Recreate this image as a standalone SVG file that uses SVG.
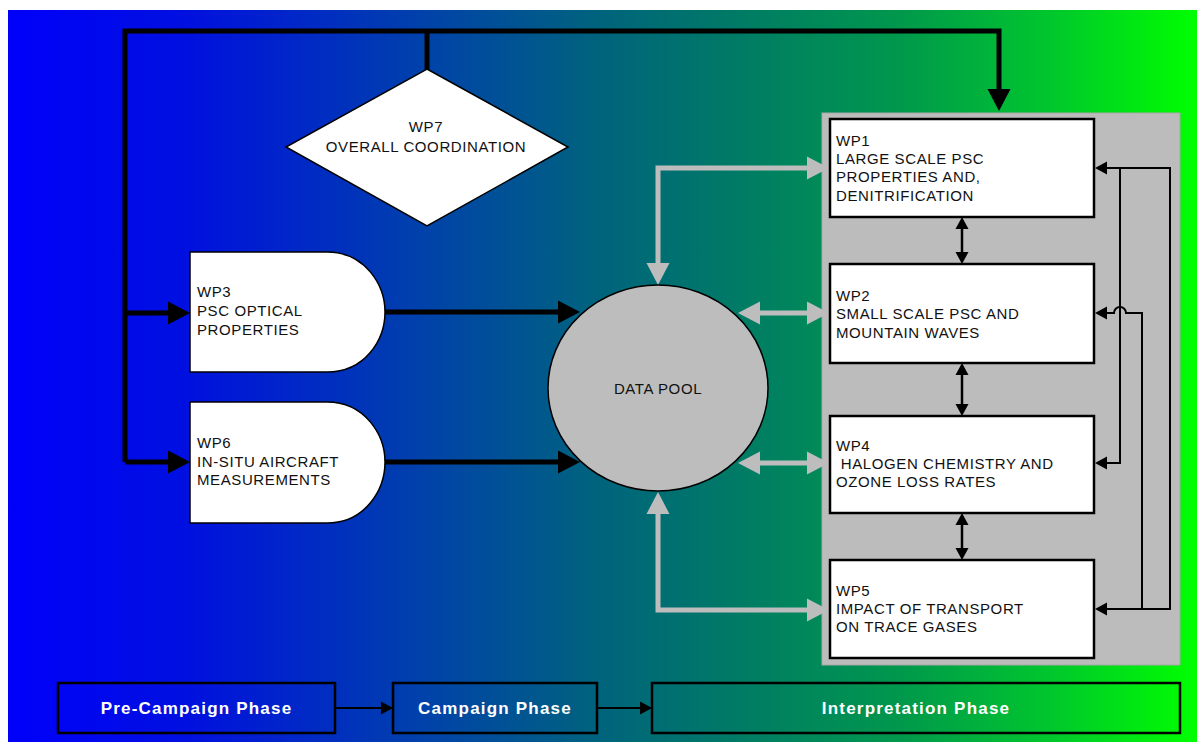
<svg xmlns="http://www.w3.org/2000/svg" width="1197" height="742" viewBox="0 0 1197 742">
<defs>
<linearGradient id="bg" x1="8" y1="0" x2="1197" y2="0" gradientUnits="userSpaceOnUse">
<stop offset="0" stop-color="#0000fa"/>
<stop offset="0.15" stop-color="#0010e0"/>
<stop offset="0.35" stop-color="#0042aa"/>
<stop offset="0.5" stop-color="#00647c"/>
<stop offset="0.62" stop-color="#007c64"/>
<stop offset="0.75" stop-color="#00984c"/>
<stop offset="0.88" stop-color="#00c82c"/>
<stop offset="1" stop-color="#00ff00"/>
</linearGradient>
<marker id="ab" markerUnits="userSpaceOnUse" orient="auto-start-reverse" refX="0" refY="0" markerWidth="24" markerHeight="24" overflow="visible"><path d="M0,-11.5 L22,0 L0,11.5 Z" fill="#000"/></marker>
<marker id="ag" markerUnits="userSpaceOnUse" orient="auto-start-reverse" refX="0" refY="0" markerWidth="24" markerHeight="24" overflow="visible"><path d="M0,-11.5 L22,0 L0,11.5 Z" fill="#bdbdbd"/></marker>
<marker id="as" markerUnits="userSpaceOnUse" orient="auto-start-reverse" refX="0" refY="0" markerWidth="14" markerHeight="14" overflow="visible"><path d="M0,-6.5 L12,0 L0,6.5 Z" fill="#000"/></marker>
</defs>
<style>
.t{font-family:"Liberation Sans",Arial,sans-serif;font-size:15px;letter-spacing:0.6px;fill:#111}
.ph{font-family:"Liberation Sans",Arial,sans-serif;font-size:17px;font-weight:bold;letter-spacing:1.2px;fill:#fff;text-anchor:middle}
.box{fill:#fff;stroke:#000;stroke-width:2.5}
.pbox{fill:none;stroke:#000;stroke-width:2.5}
.thick{fill:none;stroke:#000;stroke-width:5;stroke-linejoin:miter}
.gray{fill:none;stroke:#bdbdbd;stroke-width:5}
.thin{fill:none;stroke:#000;stroke-width:2}
.mid{fill:none;stroke:#000;stroke-width:2.5}
</style>
<rect x="8" y="10" width="1189" height="732" fill="url(#bg)"/>
<rect id="panel" x="822" y="113" width="358" height="552" fill="#bcbcbc" stroke="#a8a8a8" stroke-width="1"/>

<g id="connectors">
<path class="thick" d="M125,462 V31 H999 V89" marker-end="url(#ab)"/>
<path class="thick" d="M427,31 V70"/>
<path class="thick" d="M125,313 H168" marker-end="url(#ab)"/>
<path class="thick" d="M125,462 H168" marker-end="url(#ab)"/>
<path class="thick" d="M385,312 H558" marker-end="url(#ab)"/>
<path class="thick" d="M385,462 H558" marker-end="url(#ab)"/>
<path class="gray" d="M658,263 V168 H807" marker-start="url(#ag)" marker-end="url(#ag)"/>
<path class="gray" d="M760,313 H807" marker-start="url(#ag)" marker-end="url(#ag)"/>
<path class="gray" d="M760,463 H807" marker-start="url(#ag)" marker-end="url(#ag)"/>
<path class="gray" d="M658,514 V610 H807" marker-start="url(#ag)" marker-end="url(#ag)"/>
<path class="mid" d="M962,229 V252" marker-start="url(#as)" marker-end="url(#as)"/>
<path class="mid" d="M962,375 V404" marker-start="url(#as)" marker-end="url(#as)"/>
<path class="mid" d="M962,525 V548" marker-start="url(#as)" marker-end="url(#as)"/>
<path class="thin" d="M1107,168 H1170 V609 H1107" marker-start="url(#as)" marker-end="url(#as)"/>
<path class="thin" d="M1120,168 V463 H1107" marker-end="url(#as)"/>
<path class="thin" d="M1142,609 V313 H1126 A6,6 0 0 0 1114,313 H1107" marker-end="url(#as)"/>
<path class="thin" d="M335,708 H381" marker-end="url(#as)"/>
<path class="thin" d="M597,708 H640" marker-end="url(#as)"/>
</g>

<g id="wp7">
<polygon points="427,69 568,147 427,226 286,147" fill="#fff" stroke="#000" stroke-width="1.5"/>
<text class="t" text-anchor="middle"><tspan x="426" y="132">WP7</tspan><tspan x="426" y="151.5">OVERALL COORDINATION</tspan></text>
</g>

<g id="wp3">
<path d="M190,252 H327 C365,252 385,285 385,312 C385,340 365,372 327,372 H190 Z" fill="#fff" stroke="#000" stroke-width="1.5"/>
<text class="t"><tspan x="197" y="297">WP3</tspan><tspan x="197" y="316">PSC OPTICAL</tspan><tspan x="197" y="335">PROPERTIES</tspan></text>
</g>

<g id="wp6">
<path d="M190,402 H327 C365,402 385,435 385,462 C385,490 365,523 327,523 H190 Z" fill="#fff" stroke="#000" stroke-width="1.5"/>
<text class="t"><tspan x="197" y="448">WP6</tspan><tspan x="197" y="466.5">IN-SITU AIRCRAFT</tspan><tspan x="197" y="485">MEASUREMENTS</tspan></text>
</g>

<g id="datapool">
<ellipse cx="658" cy="388" rx="110" ry="103" fill="#bdbdbd" stroke="#000" stroke-width="1.5"/>
<text class="t" x="658" y="393.5" text-anchor="middle">DATA POOL</text>
</g>

<g id="wp1">
<rect class="box" x="830" y="119" width="264" height="98"/>
<text class="t"><tspan x="836" y="145.5">WP1</tspan><tspan x="836" y="164">LARGE SCALE PSC</tspan><tspan x="836" y="182">PROPERTIES AND,</tspan><tspan x="836" y="200.5">DENITRIFICATION</tspan></text>
</g>

<g id="wp2">
<rect class="box" x="830" y="264" width="264" height="99"/>
<text class="t"><tspan x="836" y="300.5">WP2</tspan><tspan x="836" y="319">SMALL SCALE PSC AND</tspan><tspan x="836" y="337.5">MOUNTAIN WAVES</tspan></text>
</g>

<g id="wp4">
<rect class="box" x="830" y="416" width="264" height="97"/>
<text class="t" xml:space="preserve"><tspan x="836" y="450.5">WP4</tspan><tspan x="836" y="469"> HALOGEN CHEMISTRY AND</tspan><tspan x="836" y="487">OZONE LOSS RATES</tspan></text>
</g>

<g id="wp5">
<rect class="box" x="830" y="560" width="264" height="98"/>
<text class="t"><tspan x="836" y="595.5">WP5</tspan><tspan x="836" y="614">IMPACT OF TRANSPORT</tspan><tspan x="836" y="632">ON TRACE GASES</tspan></text>
</g>

<g id="phase-pre">
<rect class="pbox" x="58" y="683" width="277" height="50"/>
<text class="ph" x="196.5" y="714">Pre-Campaign Phase</text>
</g>
<g id="phase-campaign">
<rect class="pbox" x="393" y="683" width="204" height="50"/>
<text class="ph" x="495" y="714">Campaign Phase</text>
</g>
<g id="phase-interp">
<rect class="pbox" x="652" y="683" width="528" height="50"/>
<text class="ph" x="916" y="714">Interpretation Phase</text>
</g>
</svg>
